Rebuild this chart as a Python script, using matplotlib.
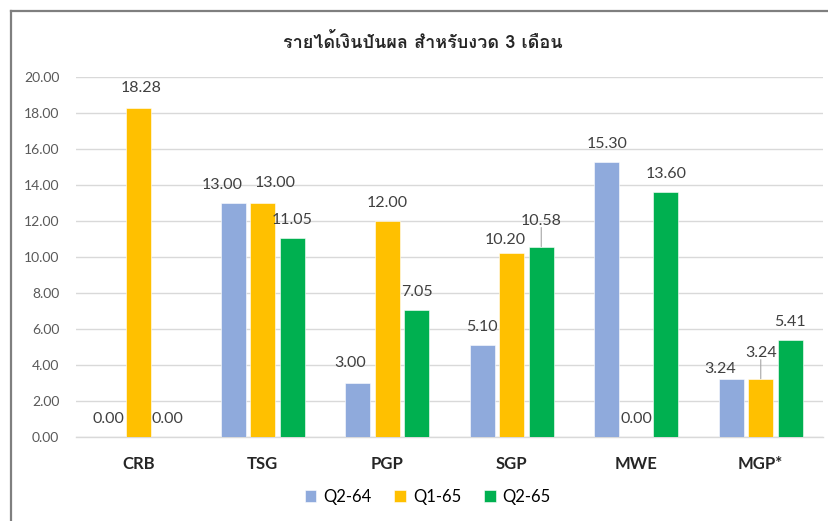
import matplotlib
matplotlib.use("Agg")
import numpy as np
import matplotlib.pyplot as plt
from matplotlib import font_manager, ft2font
from matplotlib.lines import Line2D

title = "รายได้เงินปันผล สำหรับงวด 3 เดือน"
companies = ["CRB", "TSG", "PGP", "SGP", "MWE", "MGP*"]
series_names = ["Q2-64", "Q1-65", "Q2-65"]
q2_64 = [0.00, 13.00, 3.00, 5.10, 15.30, 3.24]
q1_65 = [18.28, 13.00, 12.00, 10.20, 0.00, 3.24]
q2_65 = [0.00, 11.05, 7.05, 10.58, 13.60, 5.41]
y_ticks = [0, 2, 4, 6, 8, 10, 12, 14, 16, 18, 20]

colors = ["#8faadc", "#ffc000", "#00b050"]

# label nudges in pixels (dx, dy) relative to the default spot above each bar
nudges = [
    [(0, 0), (-11, 0), (-8, 2), (0, 0), (0, 0), (-11, -8)],
    [(3, 2), (12, 2), (0, 0), (-6, -5), (0, 0), (0, 8)],
    [(0, 0), (0, 0), (0, 0), (0, 8), (0, 0), (0, 0)],
]
# which labels got a leader line in the original
leaders = {(1, 5), (2, 3)}


def thai_font():
    for f in font_manager.fontManager.ttflist:
        try:
            if 0x0E2A in ft2font.FT2Font(f.fname).get_charmap():
                return f.name
        except Exception:
            pass
    return "DejaVu Sans"


plt.rcParams["font.family"] = ["Lato", "DejaVu Sans"]

fig = plt.figure(figsize=(8.29, 5.21), dpi=100)
ax = fig.add_axes([76 / 829, 1 - 437 / 521, (823 - 76) / 829, (437 - 77) / 521])

x = np.arange(len(companies))
width = 0.2
step = 0.237
all_series = [q2_64, q1_65, q2_65]

for i, (vals, name, col) in enumerate(zip(all_series, series_names, colors)):
    xs = x + (i - 1) * step
    ax.bar(xs, vals, width=width, color=col, edgecolor="white", linewidth=0.4,
           label=name, zorder=3)
    for j, v in enumerate(vals):
        dx, dy = nudges[i][j]
        ax.annotate(f"{v:.2f}", xy=(xs[j], v), xytext=(dx, 18 + dy),
                    textcoords="offset pixels", ha="center", va="center",
                    fontsize=11.5, color="#404040", zorder=4)
        if (i, j) in leaders:
            ax.annotate("", xy=(xs[j], v), xytext=(0, 11 + dy),
                        textcoords="offset pixels",
                        arrowprops=dict(arrowstyle="-", color="#a6a6a6", lw=0.8,
                                        shrinkA=0, shrinkB=0))

ax.set_xlim(-0.5, len(companies) - 0.5)
ax.set_ylim(0, 20)
ax.set_yticks(y_ticks)
ax.set_yticklabels([f"{t:.2f}" for t in y_ticks], fontsize=10, color="#595959")
ax.set_xticks(x)
ax.set_xticklabels(companies, fontsize=12, fontweight="bold", color="#262626")
ax.tick_params(axis="y", length=0, pad=12)
ax.tick_params(axis="x", length=0, pad=14)
ax.grid(axis="y", color="#d9d9d9", linewidth=1, zorder=0)
for s in ["top", "right", "left"]:
    ax.spines[s].set_visible(False)
ax.spines["bottom"].set_color("#d9d9d9")
ax.spines["bottom"].set_linewidth(1)

fig.text(0.51, 1 - 42 / 521, title, ha="center", va="center", fontsize=13,
         fontweight="bold", family=[thai_font(), "DejaVu Sans"], color="#262626")

fig.legend(loc="center", bbox_to_anchor=(0.516, 1 - 497 / 521), ncol=3,
           frameon=False, fontsize=12, handlelength=0.7, handleheight=0.7,
           handletextpad=0.4, columnspacing=1.4)

# outer frame (only top and left edges show in the crop)
fig.add_artist(Line2D([11 / 829, 1], [1 - 11 / 521, 1 - 11 / 521],
                      transform=fig.transFigure, color="#7f7f7f", lw=1.6))
fig.add_artist(Line2D([11 / 829, 11 / 829], [0, 1 - 11 / 521],
                      transform=fig.transFigure, color="#7f7f7f", lw=1.6))

fig.savefig("out.png", dpi=100)
